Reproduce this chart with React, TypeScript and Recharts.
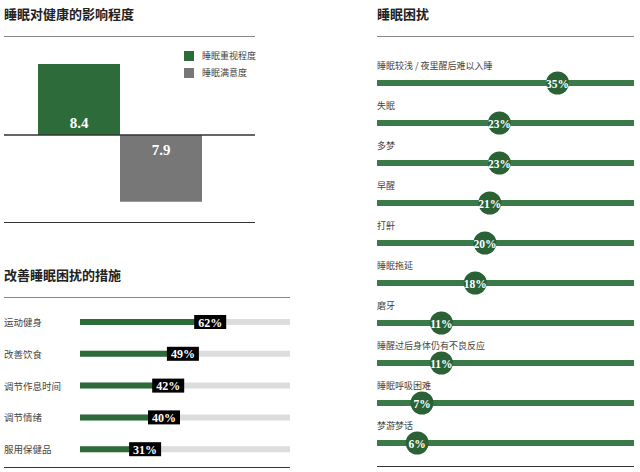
import { BarChart, Bar, XAxis, YAxis, Cell, ReferenceLine } from 'recharts';

const impactNames = ['睡眠重视程度', '睡眠满意度'];
const impactValues = [8.4, 7.9];
const impactColors = ['#2e6b3b', '#777777'];

const measureNames = ['运动健身', '改善饮食', '调节作息时间', '调节情绪', '服用保健品'];
const measureValues = [62, 49, 42, 40, 31];

const troubleNames = [
  '睡眠较浅 / 夜里醒后难以入睡',
  '失眠',
  '多梦',
  '早醒',
  '打鼾',
  '睡眠拖延',
  '磨牙',
  '睡醒过后身体仍有不良反应',
  '睡眠呼吸困难',
  '梦游梦话',
];
const troubleValues = [35, 23, 23, 21, 20, 18, 11, 11, 7, 6];

const CJK = '"Noto Sans CJK SC", "Noto Sans", sans-serif';
const SERIF = '"Liberation Serif", "DejaVu Serif", serif';

// first bar up, second bar down from the middle line
const impactData = impactNames.map((name, i) => ({
  name,
  value: i === 0 ? impactValues[i] : -impactValues[i],
}));
const measureData = measureNames.map((name, i) => ({ name, value: measureValues[i] }));
const troubleData = troubleNames.map((name, i) => ({ name, value: troubleValues[i] }));

const title = (text: string, left: number, top: number) => (
  <div
    style={{
      position: 'absolute',
      left,
      top,
      fontSize: 13,
      fontWeight: 700,
      color: '#222',
      lineHeight: '16px',
      whiteSpace: 'nowrap',
    }}
  >
    {text}
  </div>
);

const rule = (left: number, top: number, width: number, color: string) => (
  <div
    style={{
      position: 'absolute',
      left,
      top,
      width,
      height: 0,
      borderTop: `1.5px solid ${color}`,
    }}
  />
);

function ImpactLabel(props: any) {
  const { x, y, width, height, value } = props;
  const v = Number(value);
  const base = v >= 0 ? Math.max(y, y + height) : Math.min(y, y + height);
  const ty = v >= 0 ? base - 12 : base + 15;
  return (
    <text
      x={x + width / 2}
      y={ty}
      textAnchor="middle"
      dominantBaseline="central"
      fill="#fff"
      fontFamily={SERIF}
      fontWeight={700}
      fontSize={15}
    >
      {Math.abs(v)}
    </text>
  );
}

function MeasureLabel(props: any) {
  const { x, y, width, height, value } = props;
  const cx = x + width;
  const cy = y + height / 2;
  return (
    <g>
      <rect x={cx - 16} y={cy - 7} width={32} height={14} fill="#000" />
      <text
        x={cx}
        y={cy + 0.5}
        textAnchor="middle"
        dominantBaseline="central"
        fill="#fff"
        fontFamily={SERIF}
        fontWeight={700}
        fontSize={12}
      >
        {value}%
      </text>
    </g>
  );
}

function TroubleLabel(props: any) {
  const { x, y, width, height, value } = props;
  const cx = x + width;
  const cy = y + height / 2;
  return (
    <g>
      <circle cx={cx} cy={cy} r={11.5} fill="#2a6236" />
      <text
        x={cx}
        y={cy + 0.5}
        textAnchor="middle"
        dominantBaseline="central"
        fill="#fff"
        fontFamily={SERIF}
        fontWeight={700}
        fontSize={11.5}
      >
        {value}%
      </text>
    </g>
  );
}

function MeasureTick(props: any) {
  const { y, payload } = props;
  return (
    <text x={4} y={y} dominantBaseline="central" fontSize={9.5} fill="#444" fontFamily={CJK}>
      {payload.value}
    </text>
  );
}

function TroubleTick(props: any) {
  const { y, payload } = props;
  return (
    <text x={7} y={y - 18} dominantBaseline="central" fontSize={9} fill="#444" fontFamily={CJK}>
      {payload.value}
    </text>
  );
}

export default function App() {
  return (
    <div
      style={{
        position: 'absolute',
        left: 0,
        top: 0,
        width: 640,
        height: 472,
        background: '#fff',
        fontFamily: CJK,
        overflow: 'hidden',
      }}
    >
      {title('睡眠对健康的影响程度', 4, 6)}
      {rule(4, 36, 251, '#888')}
      {rule(4, 222, 251, '#333')}

      {impactNames.map((n, i) => (
        <div
          key={n}
          style={{
            position: 'absolute',
            left: 184,
            top: 49 + i * 17,
            display: 'flex',
            alignItems: 'center',
            fontSize: 9,
            color: '#444',
            whiteSpace: 'nowrap',
          }}
        >
          <span
            style={{ width: 10, height: 10, background: impactColors[i], marginRight: 8, display: 'inline-block' }}
          />
          {n}
        </div>
      ))}

      <div style={{ position: 'absolute', left: 0, top: 37 }}>
        <BarChart
          width={260}
          height={186}
          data={impactData}
          margin={{ top: 0, right: 5, bottom: 0, left: 4 }}
          barCategoryGap={0}
        >
          <XAxis dataKey="name" type="category" hide padding={{ left: 34, right: 53 }} />
          <YAxis type="number" hide domain={[-10.41, 11.6]} />
          <ReferenceLine y={0} stroke="#333" strokeWidth={1.5} />
          <Bar dataKey="value" isAnimationActive={false} label={<ImpactLabel />}>
            {impactData.map((d, i) => (
              <Cell key={d.name} fill={impactColors[i]} />
            ))}
          </Bar>
        </BarChart>
      </div>

      {title('改善睡眠困扰的措施', 4, 267)}
      {rule(4, 297, 286, '#888')}
      {rule(4, 467, 286, '#333')}

      <div style={{ position: 'absolute', left: 0, top: 298 }}>
        <BarChart
          width={295}
          height={172}
          layout="vertical"
          data={measureData}
          margin={{ top: 8, right: 5, bottom: 5, left: 4 }}
        >
          <XAxis type="number" hide domain={[0, 100]} />
          <YAxis
            type="category"
            dataKey="name"
            width={76}
            axisLine={false}
            tickLine={false}
            tick={<MeasureTick />}
          />
          <Bar
            dataKey="value"
            barSize={6}
            fill="#2e6b3b"
            background={{ fill: '#dddddd' }}
            isAnimationActive={false}
            label={<MeasureLabel />}
          />
        </BarChart>
      </div>

      {title('睡眠困扰', 377, 6)}
      {rule(377, 36, 257, '#888')}
      {rule(377, 466, 257, '#333')}

      <div style={{ position: 'absolute', left: 370, top: 40 }}>
        <BarChart
          width={270}
          height={430}
          layout="vertical"
          data={troubleData}
          margin={{ top: 23, right: 6, bottom: 7, left: 6 }}
        >
          <XAxis type="number" hide domain={[-2.3, 50.8]} />
          <YAxis
            type="category"
            dataKey="name"
            width={1}
            axisLine={false}
            tickLine={false}
            interval={0}
            tick={<TroubleTick />}
          />
          <Bar
            dataKey="value"
            barSize={6}
            fill="transparent"
            background={{ fill: '#3a7a48' }}
            isAnimationActive={false}
            label={<TroubleLabel />}
          />
        </BarChart>
      </div>
    </div>
  );
}
